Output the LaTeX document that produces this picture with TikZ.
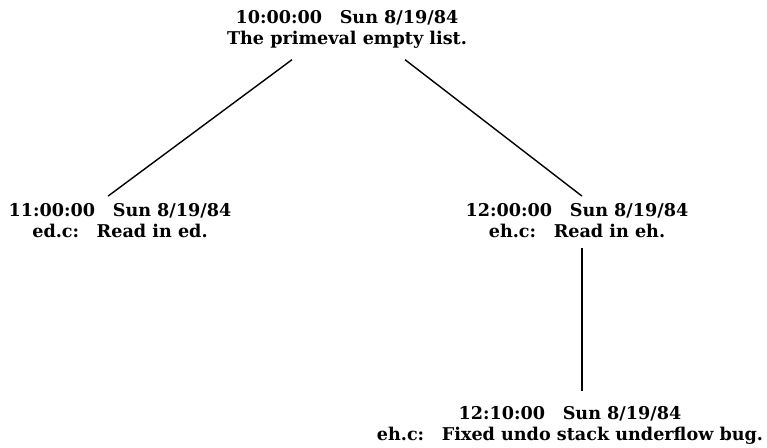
\documentclass[tikz,border=0pt]{standalone}
\usepackage{fontspec}
\setmainfont{DejaVu Serif}
\usetikzlibrary{positioning}

\tikzset{rev/.style={align=center,inner sep=0pt,
    font=\bfseries\fontsize{17.6}{21}\selectfont}}
\newcommand{\fsep}{\hspace{1em}}

\begin{document}
\begin{tikzpicture}[x=1pt,y=1pt,node distance=190pt,on grid,line width=1.4pt]
  \useasboundingbox (0,0) rectangle (767,447);
  \node[rev] (t1000) at (347,418) {10:00:00\quad Sun 8/19/84 \\ The primeval empty list.};
  \node[rev] (t1100) [below left=192pt and 227pt of t1000] {11:00:00\quad Sun 8/19/84 \\ ed.c:\fsep Read in ed.};
  \node[rev] (t1200) [below right=192pt and 230pt of t1000] {12:00:00\quad Sun 8/19/84 \\ eh.c:\fsep Read in eh.};
  \node[rev] (t1210) [below=204pt of t1200,xshift=-7pt] {12:10:00\quad Sun 8/19/84 \\ eh.c:\fsep Fixed undo stack underflow bug.};
  \draw ([xshift=-55pt,yshift=-11pt]t1000.south) -- ([xshift=-12pt,yshift=7pt]t1100.north);
  \draw ([xshift=58pt,yshift=-11pt]t1000.south) -- ([xshift=5pt,yshift=7pt]t1200.north);
  \draw ([xshift=5pt,yshift=-9pt]t1200.south) -- ([xshift=12pt,yshift=14pt]t1210.north);
\end{tikzpicture}
\end{document}
